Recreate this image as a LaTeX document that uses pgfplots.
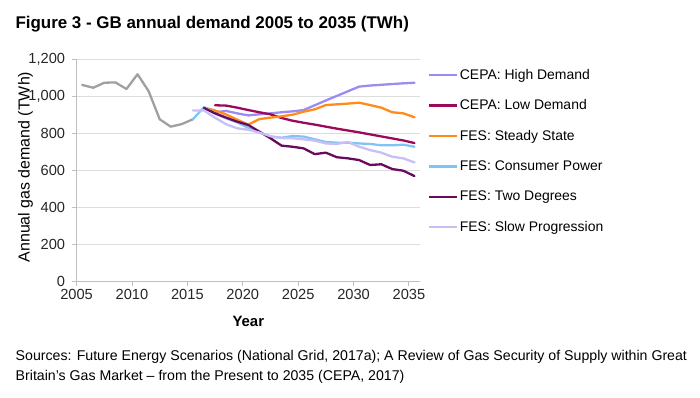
\documentclass[border=0pt]{standalone}
\usepackage{fontspec}
\setmainfont{Liberation Sans}
\usepackage{pgfplots}
\pgfplotsset{compat=1.18}
\definecolor{histgrey}{HTML}{A0A0A0}
\definecolor{highd}{HTML}{9B8CF2}
\definecolor{lowd}{HTML}{9B0A5A}
\definecolor{steady}{HTML}{FF8C1A}
\definecolor{consumer}{HTML}{7FC4F4}
\definecolor{twodeg}{HTML}{6A0A5C}
\definecolor{slowp}{HTML}{C8C0F4}
\definecolor{axisgrey}{HTML}{BFBFBF}
\definecolor{gridgrey}{HTML}{DDDDDD}
\begin{document}
\begin{tikzpicture}[x=1bp,y=1bp]
\path[use as bounding box] (-76.6,-116) rectangle (623.4,281);
\begin{axis}[
  at={(0,0)}, anchor=south west,
  scale only axis, width=343.4bp, height=221.3bp,
  xmin=2005, xmax=2036, ymin=0, ymax=1200,
  xtick={2005,2010,...,2035}, ytick={0,200,...,1200},
  axis lines=left, axis line style={-, draw=axisgrey, line width=0.9bp},
  ymajorgrids, grid style={draw=gridgrey, line width=0.9bp},
  tick align=outside, major tick length=5bp,
  tick style={draw=axisgrey, line width=0.9bp},
  ticklabel style={font=\fontsize{14.7}{16}\selectfont, text=black!85},
  /pgf/number format/assume math mode=true,
  yticklabel style={xshift=-3bp, /pgf/number format/.cd, 1000 sep={,}},
  xticklabel style={/pgf/number format/.cd, 1000 sep={}},
  every axis plot/.append style={line width=2.3bp, line join=round, line cap=round},
  legend style={at={(rel axis cs:1.023,0.965)}, anchor=north west, draw=none, fill=none,
    font=\fontsize{14}{16}\selectfont, row sep=16bp, inner sep=0pt,
    nodes={inner sep=1.5bp}},
  legend cell align=left,
  legend image code/.code={\draw[#1, line cap=butt] (0bp,0bp) -- (28bp,0bp);},
]
\addplot[histgrey, forget plot] coordinates {
(2005.5,1063) (2006.5,1048) (2007.5,1075) (2008.5,1077) (2009.5,1041) (2010.5,1121)
(2011.5,1030) (2012.5,877) (2013.5,837) (2014.5,851) (2015.5,877)};
\addplot[highd] coordinates {
(2017.5,915) (2018.5,922) (2019.5,909) (2020.5,898) (2021.5,904) (2022.5,909)
(2023.5,915) (2024.5,920) (2025.5,927) (2026.5,953) (2027.5,979) (2028.5,1004)
(2029.5,1029) (2030.5,1054) (2031.5,1060) (2032.5,1064) (2033.5,1068) (2034.5,1072) (2035.5,1075)};
\addlegendentry{CEPA: High Demand}
\addplot[lowd] coordinates {
(2017.5,953) (2018.5,951) (2019.5,940) (2020.5,927) (2021.5,915) (2022.5,904)
(2023.5,884) (2024.5,869) (2025.5,858) (2026.5,848) (2027.5,837) (2028.5,826)
(2029.5,816) (2030.5,806) (2031.5,795) (2032.5,784) (2033.5,773) (2034.5,762) (2035.5,748)};
\addlegendentry{CEPA: Low Demand}
\addplot[steady] coordinates {
(2016.5,940) (2017.5,925) (2018.5,903) (2019.5,875) (2020.5,848) (2021.5,878)
(2022.5,886) (2023.5,893) (2024.5,902) (2025.5,918) (2026.5,931) (2027.5,954)
(2028.5,958) (2029.5,962) (2030.5,967) (2031.5,954) (2032.5,940) (2033.5,915) (2034.5,909) (2035.5,888)};
\addlegendentry{FES: Steady State}
\addplot[consumer] coordinates {
(2015.5,877) (2016.5,943) (2017.5,908) (2018.5,882) (2019.5,860) (2020.5,831)
(2021.5,806) (2022.5,783) (2023.5,777) (2024.5,786) (2025.5,783) (2026.5,768)
(2027.5,754) (2028.5,750) (2029.5,750) (2030.5,746) (2031.5,743) (2032.5,736)
(2033.5,736) (2034.5,739) (2035.5,728)};
\addlegendentry{FES: Consumer Power}
\addplot[twodeg] coordinates {
(2016.5,938) (2017.5,909) (2018.5,886) (2019.5,864) (2020.5,846) (2021.5,810)
(2022.5,774) (2023.5,734) (2024.5,728) (2025.5,719) (2026.5,688) (2027.5,696)
(2028.5,671) (2029.5,665) (2030.5,656) (2031.5,629) (2032.5,633) (2033.5,607)
(2034.5,598) (2035.5,569)};
\addlegendentry{FES: Two Degrees}
\addplot[slowp] coordinates {
(2015.5,925) (2016.5,925) (2017.5,885) (2018.5,850) (2019.5,828) (2020.5,820)
(2021.5,805) (2022.5,785) (2023.5,775) (2024.5,774) (2025.5,768) (2026.5,761)
(2027.5,746) (2028.5,743) (2029.5,754) (2030.5,728) (2031.5,710) (2032.5,696)
(2033.5,674) (2034.5,665) (2035.5,643)};
\addlegendentry{FES: Slow Progression}
\end{axis}
\node[anchor=base west, font=\fontsize{17}{20}\selectfont\bfseries] at (-64.6,253) {Figure 3 - GB annual demand 2005 to 2035 (TWh)};
\node[rotate=90, font=\fontsize{16}{19}\selectfont] at (-51,114) {Annual gas demand (TWh)};
\node[anchor=base, font=\fontsize{15}{18}\selectfont\bfseries] at (171.7,-45) {Year};
\node[anchor=base west, font=\fontsize{14.2}{16}\selectfont] at (-64.4,-79.5) {Sources: Future Energy Scenarios (National Grid, 2017a); A Review of Gas Security of Supply within Great};
\node[anchor=base west, font=\fontsize{14.2}{16}\selectfont] at (-64.4,-99.5) {Britain's Gas Market -- from the Present to 2035 (CEPA, 2017)};
\end{tikzpicture}
\end{document}
